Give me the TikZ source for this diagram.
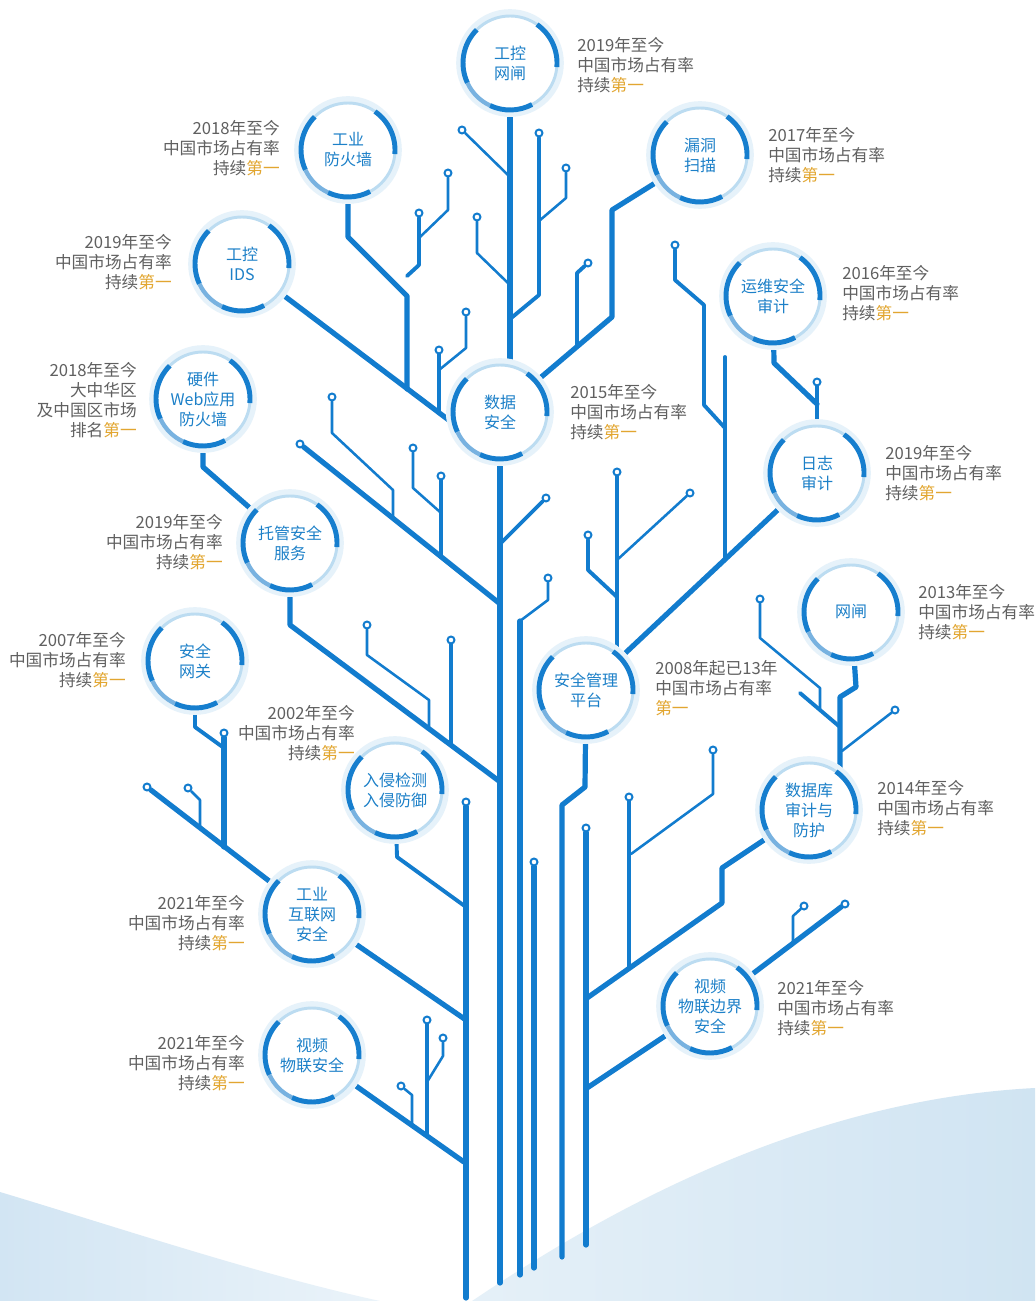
\documentclass[tikz,border=0pt]{standalone}
\usepackage{fontspec}
\setmainfont{Noto Sans CJK SC}
\usetikzlibrary{calc}
\definecolor{wire}{RGB}{18,124,206}
\definecolor{arcdk}{RGB}{22,126,206}
\definecolor{arcmd}{RGB}{120,178,224}
\definecolor{glowA}{RGB}{230,242,250}
\definecolor{glowB}{RGB}{188,220,241}
\definecolor{nodetxt}{RGB}{28,128,200}
\definecolor{lblgray}{RGB}{96,96,96}
\definecolor{gold}{RGB}{226,166,48}
\definecolor{hillA}{RGB}{210,229,243}
\definecolor{hillB}{RGB}{208,228,242}
\newcommand\firstgold{\textcolor{gold}{第一}}
\pgfdeclarelayer{bg}\pgfdeclarelayer{wires}\pgfdeclarelayer{rings}
\pgfsetlayers{bg,wires,rings,main}
\newcommand\ringdeco[1]{%
  \fill[white] (#1.center) circle (54);
  \draw[line width=5pt, glowA] (#1.center) circle (50.5);
  \draw[line width=2.2pt, glowB] (#1.center) circle (47);
  \draw[arcst] ([shift={(55:47)}]#1.center) arc[start angle=55,end angle=-5,radius=47];
  \draw[arcst] ([shift={(135:47)}]#1.center) arc[start angle=135,end angle=205,radius=47];
  \draw[arcmid] ([shift={(205:47)}]#1.center) arc[start angle=205,end angle=245,radius=47];
  \draw[arcst] ([shift={(245:47)}]#1.center) arc[start angle=245,end angle=298,radius=47];
}
\begin{document}
\begin{tikzpicture}[x=0.75pt,y=0.75pt,
  T/.style={draw=wire, line width=3.9pt, line cap=round, line join=round},
  M/.style={draw=wire, line width=2.9pt, line cap=round, line join=round},
  N/.style={draw=wire, line width=1.9pt, line cap=round, line join=round},
  arcst/.style={draw=arcdk, line width=3.7pt},
  arcmid/.style={draw=arcmd, line width=3.2pt},
  cn/.style={circle, minimum size=70.5pt, inner sep=0pt, align=center, text=nodetxt, font=\fontsize{12}{15}\selectfont},
  dotn/.style={circle, minimum size=5.2pt, inner sep=0pt, draw=wire, line width=1.5pt, fill=white},
  lblL/.style={anchor=west, align=left, inner sep=0pt, text=lblgray, font=\fontsize{12.5}{15}\selectfont},
  lblR/.style={anchor=east, align=right, inner sep=0pt, text=lblgray, font=\fontsize{12.5}{15}\selectfont}]
\useasboundingbox (0,0) rectangle (1035,-1301);

% ---------- circles ----------
\node[cn] (c1) at (510,-63) {工控\\网闸};
\node[cn] (c2) at (700,-155) {漏洞\\扫描};
\node[cn] (c3) at (348,-150) {工业\\防火墙};
\node[cn] (c4) at (242,-264) {工控\\IDS};
\node[cn] (c5) at (773,-296) {运维安全\\审计};
\node[cn] (c6) at (500,-412) {数据\\安全};
\node[cn] (c7) at (203,-399) {硬件\\Web应用\\防火墙};
\node[cn] (c8) at (817,-473) {日志\\审计};
\node[cn] (c9) at (290,-543) {托管安全\\服务};
\node[cn] (c10) at (851,-612) {网闸};
\node[cn] (c11) at (195,-661) {安全\\网关};
\node[cn] (c12) at (586,-690) {安全管理\\平台};
\node[cn] (c13) at (395,-790) {入侵检测\\入侵防御};
\node[cn] (c14) at (809,-810) {数据库\\审计与\\防护};
\node[cn] (c15) at (312,-914) {工业\\互联网\\安全};
\node[cn] (c16) at (710,-1006) {视频\\物联边界\\安全};
\node[cn] (c17) at (312,-1055) {视频\\物联安全};

% ---------- labels ----------
\node[lblL] (t1) at (577,-65) {2019年至今\\中国市场占有率\\持续\firstgold};
\node[lblL] (t2) at (768,-155) {2017年至今\\中国市场占有率\\持续\firstgold};
\node[lblR] (t3) at (280,-148) {2018年至今\\中国市场占有率\\持续\firstgold};
\node[lblR] (t4) at (172,-262) {2019年至今\\中国市场占有率\\持续\firstgold};
\node[lblL] (t5) at (842,-293) {2016年至今\\中国市场占有率\\持续\firstgold};
\node[lblL] (t6) at (570,-412) {2015年至今\\中国市场占有率\\持续\firstgold};
\node[lblR] (t7) at (137,-400) {2018年至今\\大中华区\\及中国区市场\\排名\firstgold};
\node[lblL] (t8) at (885,-473) {2019年至今\\中国市场占有率\\持续\firstgold};
\node[lblR] (t9) at (223,-542) {2019年至今\\中国市场占有率\\持续\firstgold};
\node[lblL] (t10) at (918,-612) {2013年至今\\中国市场占有率\\持续\firstgold};
\node[lblR] (t11) at (126,-660) {2007年至今\\中国市场占有率\\持续\firstgold};
\node[lblL] (t12) at (655,-688) {2008年起已13年\\中国市场占有率\\\firstgold};
\node[lblR] (t13) at (355,-733) {2002年至今\\中国市场占有率\\持续\firstgold};
\node[lblL] (t14) at (877,-808) {2014年至今\\中国市场占有率\\持续\firstgold};
\node[lblR] (t15) at (245,-923) {2021年至今\\中国市场占有率\\持续\firstgold};
\node[lblL] (t16) at (777,-1008) {2021年至今\\中国市场占有率\\持续\firstgold};
\node[lblR] (t17) at (245,-1063) {2021年至今\\中国市场占有率\\持续\firstgold};

% ---------- terminal dots ----------
\node[dotn] (d1) at (462,-130) {};
\node[dotn] (d2) at (539,-133) {};
\node[dotn] (d3) at (566,-168) {};
\node[dotn] (d4) at (477,-217) {};
\node[dotn] (d5) at (419,-213) {};
\node[dotn] (d6) at (448,-173) {};
\node[dotn] (d7) at (439,-350) {};
\node[dotn] (d8) at (466,-312) {};
\node[dotn] (d9) at (588,-263) {};
\node[dotn] (d10) at (367,-625) {};
\node[dotn] (d11) at (451,-640) {};
\node[dotn] (d12) at (300,-444) {};
\node[dotn] (d13) at (332,-397) {};
\node[dotn] (d14) at (413,-448) {};
\node[dotn] (d15) at (441,-476) {};
\node[dotn] (d16) at (546,-498) {};
\node[dotn] (d17) at (548,-578) {};
\node[dotn] (d18) at (675,-245) {};
\node[dotn] (d19) at (617,-472) {};
\node[dotn] (d20) at (690,-493) {};
\node[dotn] (d21) at (588,-535) {};
\node[dotn] (d22) at (817,-382) {};
\node[dotn] (d23) at (586,-828) {};
\node[dotn] (d24) at (629,-797) {};
\node[dotn] (d25) at (713,-750) {};
\node[dotn] (d26) at (845,-904) {};
\node[dotn] (d27) at (804,-906) {};
\node[dotn] (d28) at (895,-710) {};
\node[dotn] (d29) at (760,-599) {};
\node[dotn] (d30) at (224,-733) {};
\node[dotn] (d31) at (147,-787) {};
\node[dotn] (d32) at (188,-788) {};
\node[dotn] (d33) at (466,-802) {};
\node[dotn] (d34) at (427,-1020) {};
\node[dotn] (d35) at (443,-1038) {};
\node[dotn] (d36) at (401,-1086) {};
\node[dotn] (d37) at (534,-862) {};

% ---------- junction coordinates ----------
\coordinate (a1) at (510,-366);
\coordinate (a2) at (510,-177);
\coordinate (a3) at (539,-295); \coordinate (a4) at (510,-319);
\coordinate (a5) at (566,-198); \coordinate (a6) at (539,-221);
\coordinate (a7) at (477,-253); \coordinate (a8) at (510,-285);
\coordinate (b1) at (348,-237); \coordinate (b2) at (407,-296); \coordinate (b3) at (407,-389);
\coordinate (b4) at (419,-265); \coordinate (b5) at (407,-276);
\coordinate (b6) at (448,-210); \coordinate (b7) at (419,-238);
\coordinate (b8) at (450,-421);
\coordinate (b9) at (439,-413);
\coordinate (b10) at (466,-348); \coordinate (b11) at (439,-370);
\coordinate (b12) at (612,-210); \coordinate (b13) at (612,-317);
\coordinate (b14) at (577,-273); \coordinate (b15) at (577,-347);
\coordinate (b16) at (203,-467);
\coordinate (b17) at (290,-625); \coordinate (b18) at (499,-781);
\coordinate (b19) at (367,-655); \coordinate (b20) at (429,-700); \coordinate (b21) at (429,-729);
\coordinate (b22) at (451,-745);
\coordinate (b23) at (499,-603);
\coordinate (b24) at (332,-433); \coordinate (b25) at (393,-490); \coordinate (b26) at (393,-518);
\coordinate (b27) at (413,-488); \coordinate (b28) at (440,-512);
\coordinate (b29) at (441,-557);
\coordinate (e1) at (500,-1283);
\coordinate (b30) at (501,-543);
\coordinate (b31) at (548,-600); \coordinate (b32) at (520,-621); \coordinate (e2) at (520,-1275);
\coordinate (b33) at (725,-357); \coordinate (b34) at (725,-559);
\coordinate (b35) at (675,-280); \coordinate (b36) at (704,-305); \coordinate (b37) at (704,-405); \coordinate (b38) at (725,-428);
\coordinate (b39) at (617,-650);
\coordinate (b40) at (617,-560);
\coordinate (b41) at (588,-570); \coordinate (b42) at (617,-597);
\coordinate (b43) at (774,-363); \coordinate (b44) at (817,-404);
\coordinate (b45) at (585,-787); \coordinate (b46) at (562,-805); \coordinate (e3) at (562,-1257);
\coordinate (e4) at (586,-1245);
\coordinate (b47) at (629,-968);
\coordinate (b48) at (713,-794); \coordinate (b49) at (631,-854);
\coordinate (b50) at (722,-868); \coordinate (b51) at (722,-903); \coordinate (b52) at (587,-998);
\coordinate (b53) at (587,-1088);
\coordinate (b54) at (793,-916); \coordinate (b55) at (793,-943);
\coordinate (b56) at (856,-687); \coordinate (b57) at (840,-697); \coordinate (b58) at (840,-768);
\coordinate (b59) at (842,-751);
\coordinate (b60) at (760,-638); \coordinate (b61) at (820,-688); \coordinate (b62) at (820,-710);
\coordinate (b63) at (800,-693); \coordinate (b64) at (840,-727);
\coordinate (b65) at (195,-727); \coordinate (b66) at (224,-748);
\coordinate (b67) at (224,-847);
\coordinate (b68) at (200,-800); \coordinate (b69) at (200,-828);
\coordinate (b70) at (397,-857); \coordinate (b71) at (466,-907);
\coordinate (b72) at (466,-1020);
\coordinate (b73) at (464,-1162);
\coordinate (e5) at (466,-1298);
\coordinate (b74) at (427,-1136);
\coordinate (b75) at (443,-1056); \coordinate (b76) at (427,-1082);
\coordinate (b77) at (412,-1095); \coordinate (b78) at (412,-1125);
\coordinate (e6) at (534,-1268);

% ---------- background ----------
\begin{pgfonlayer}{bg}
\fill[white] (0,0) rectangle (1035,-1301);
\shade[left color=hillA, right color=hillA!45!white] (0,-1192) .. controls (120,-1228) and (260,-1275) .. (380,-1301) -- (0,-1301) -- cycle;
\shade[left color=hillB!55!white, right color=hillB] (472,-1301) .. controls (600,-1215) and (800,-1100) .. (1035,-1088) -- (1035,-1301) -- cycle;
\end{pgfonlayer}

% ---------- wires ----------
\begin{pgfonlayer}{wires}
\draw[T] (c1) -- (a1);
\draw[N] (d1) -- (a2);
\draw[M] (d2) -- (a3) -- (a4);
\draw[N] (d3) -- (a5) -- (a6);
\draw[N] (d4) -- (a7) -- (a8);
\draw[T] (c3) -- (b1) -- (b2) -- (b3);
\draw[M] (d5) -- (b4) -- (b5);
\draw[N] (d6) -- (b6) -- (b7);
\draw[T] (c4) -- (b8);
\draw[M] (d7) -- (b9);
\draw[N] (d8) -- (b10) -- (b11);
\draw[T] (c2) -- (b12) -- (b13) -- (c6);
\draw[M] (d9) -- (b14) -- (b15);
\draw[T] (c7) -- (b16) -- (c9);
\draw[T] (c9) -- (b17) -- (b18);
\draw[N] (d10) -- (b19) -- (b20) -- (b21);
\draw[M] (d11) -- (b22);
\draw[T] (d12) -- (b23);
\draw[N] (d13) -- (b24) -- (b25) -- (b26);
\draw[N] (d14) -- (b27) -- (b28);
\draw[M] (d15) -- (b29);
\draw[T] (c6) -- (e1);
\draw[M] (d16) -- (b30);
\draw[N] (d17) -- (b31) -- (b32);
\draw[T] (b32) -- (e2);
\draw[T] (c8) -- (c12);
\draw[M] (b33) -- (b34);
\draw[M] (d18) -- (b35) -- (b36) -- (b37) -- (b38);
\draw[M] (d19) -- (b39);
\draw[N] (d20) -- (b40);
\draw[M] (d21) -- (b41) -- (b42);
\draw[T] (c5) -- (b43) -- (b44);
\draw[M] (d22) -- (c8);
\draw[T] (c12) -- (b45) -- (b46) -- (e3);
\draw[T] (d23) -- (e4);
\draw[M] (d24) -- (b47);
\draw[N] (d25) -- (b48) -- (b49);
\draw[T] (c14) -- (b50) -- (b51) -- (b52);
\draw[T] (c16) -- (b53);
\draw[T] (c16) -- (d26);
\draw[N] (d27) -- (b54) -- (b55);
\draw[T] (c10) -- (b56) -- (b57) -- (b58);
\draw[N] (d28) -- (b59);
\draw[N] (d29) -- (b60) -- (b61) -- (b62);
\draw[M] (b63) -- (b64);
\draw[M] (c11) -- (b65) -- (b66);
\draw[T] (d30) -- (b67);
\draw[T] (d31) -- (c15);
\draw[N] (d32) -- (b68) -- (b69);
\draw[M] (c13) -- (b70) -- (b71);
\draw[T] (c15) -- (b72);
\draw[T] (c17) -- (b73);
\draw[T] (d33) -- (e5);
\draw[M] (d34) -- (b74);
\draw[N] (d35) -- (b75) -- (b76);
\draw[N] (d36) -- (b77) -- (b78);
\draw[T] (d37) -- (e6);
\end{pgfonlayer}

% ---------- rings ----------
\begin{pgfonlayer}{rings}
\foreach \n in {c1,c2,c3,c4,c5,c6,c7,c8,c9,c10,c11,c12,c13,c14,c15,c16,c17}{\ringdeco{\n}}
\end{pgfonlayer}
\end{tikzpicture}
\end{document}
